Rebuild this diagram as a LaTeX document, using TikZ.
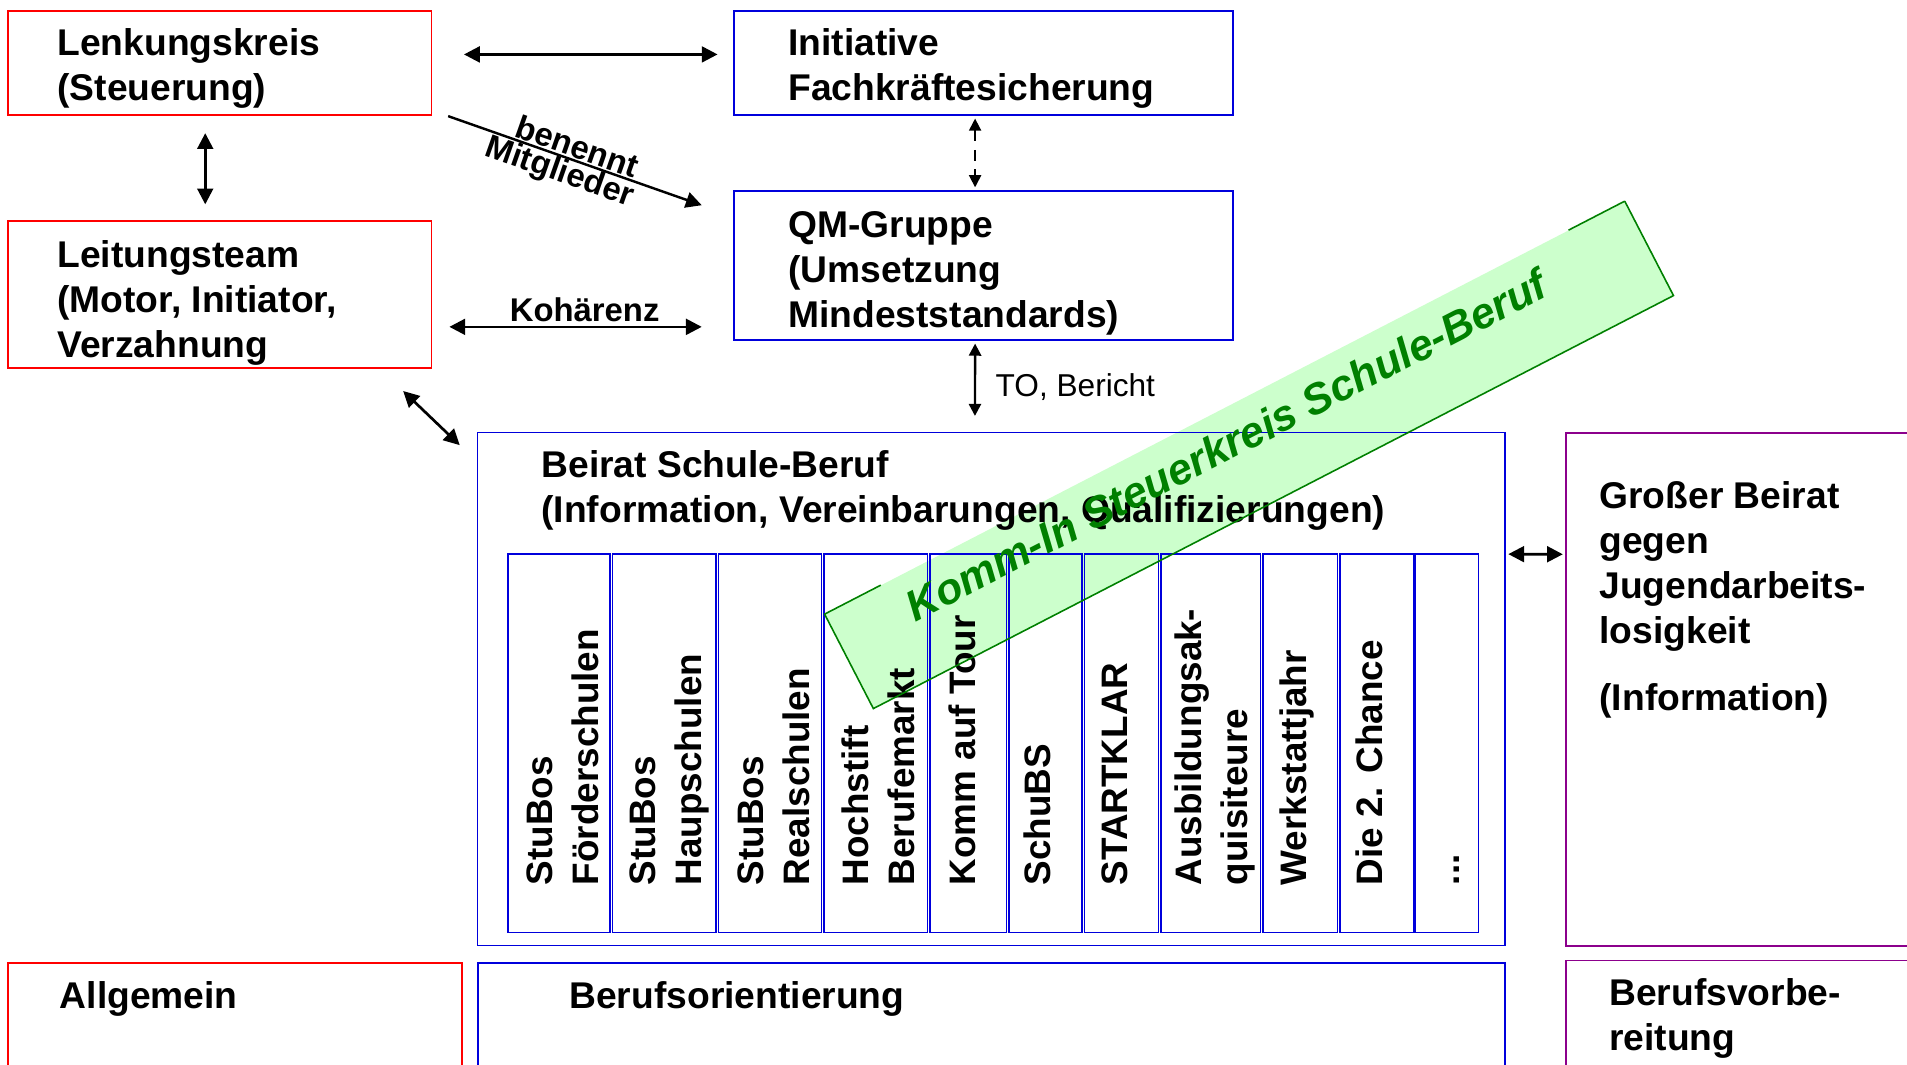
\documentclass[tikz,border=0pt]{standalone}
\usepackage{fontspec}
\setmainfont{Liberation Sans}
\usetikzlibrary{arrows.meta,calc}
\definecolor{cred}{RGB}{255,0,0}
\definecolor{cblue}{RGB}{0,0,220}
\definecolor{cpurple}{RGB}{140,0,140}
\definecolor{bgreen}{RGB}{204,255,204}
\definecolor{dgreen}{RGB}{0,128,0}
\begin{document}
\begin{tikzpicture}[x=1pt,y=-1pt,
  box/.style={draw, line width=1.5pt, inner sep=0pt, anchor=north west},
  redbox/.style={box, draw=cred},
  bluebox/.style={box, draw=cblue},
  purplebox/.style={box, draw=cpurple},
  colbox/.style={draw=cblue, line width=1.2pt, inner sep=0pt, anchor=north west, minimum height=311pt},
  lbl/.style={font=\fontsize{30.6}{37}\selectfont\bfseries, anchor=base west, align=left, inner sep=0pt},
  vlbl/.style={font=\fontsize{30.3}{38}\selectfont\bfseries, rotate=90, anchor=base west, align=left, inner sep=0pt},
  lab/.style={font=\fontsize{27}{30}\selectfont\bfseries, inner sep=1pt},
  arr/.style={line width=2.2pt, {Triangle[length=13pt,width=13pt]}-{Triangle[length=13pt,width=13pt]}},
  arrs/.style={line width=2pt, {Triangle[length=10pt,width=10pt]}-{Triangle[length=10pt,width=10pt]}},
  arrone/.style={line width=2pt, -{Triangle[length=13pt,width=13pt]}},
  banner/.style={rotate=27.3, minimum width=740pt, minimum height=87pt, inner sep=0pt, fill=bgreen}
]
\useasboundingbox (0,0) rectangle (1568,875);
\fill[white] (0,0) rectangle (1568,875);
\clip (0,0) rectangle (1568,875);

% green banner (fill behind)
\node[banner] (banner) at (1027,374) {};

% boxes
\node[redbox, minimum width=348pt, minimum height=86pt] (lenk) at (6,8) {};
\node[bluebox, minimum width=410pt, minimum height=86pt] (init) at (603,8) {};
\node[redbox, minimum width=348pt, minimum height=121pt] (leit) at (6,181) {};
\node[bluebox, minimum width=410pt, minimum height=123pt] (qm) at (603,156) {};
\node[bluebox, line width=1.2pt, minimum width=845pt, minimum height=422pt] (beirat) at (392,355) {};
\node[purplebox, minimum width=320pt, minimum height=422pt] (gross) at (1287,355) {};
\node[redbox, minimum width=373pt, minimum height=120pt] (allg) at (6,791) {};
\node[bluebox, minimum width=845pt, minimum height=120pt] (bo) at (392,791) {};
\node[purplebox, minimum width=320pt, minimum height=120pt] (bv) at (1287,789) {};

% columns
\node[colbox, minimum width=84pt] (c1) at (417,455) {};
\node[colbox, minimum width=85pt] (c2) at (503,455) {};
\node[colbox, minimum width=85pt] (c3) at (590,455) {};
\node[colbox, minimum width=85pt] (c4) at (677,455) {};
\node[colbox, minimum width=63pt] (c5) at (764,455) {};
\node[colbox, minimum width=60pt] (c6) at (829,455) {};
\node[colbox, minimum width=61pt] (c7) at (891,455) {};
\node[colbox, minimum width=82pt] (c8) at (954,455) {};
\node[colbox, minimum width=61pt] (c9) at (1038,455) {};
\node[colbox, minimum width=61pt] (c10) at (1101,455) {};
\node[colbox, minimum width=52pt] (c11) at (1163,455) {};

% texts (anchor = baseline of the last line)
\node[lbl] (tlenk) at (47,83) {Lenkungskreis\\(Steuerung)};
\node[lbl] (tinit) at (648,83) {Initiative\\Fachkräftesicherung};
\node[lbl] (tleit) at (47,294) {Leitungsteam\\(Motor, Initiator,\\Verzahnung};
\node[lbl] (tqm) at (648,269) {QM-Gruppe\\(Umsetzung\\Mindeststandards)};
\node[lbl] (tbeirat) at (445,430) {Beirat Schule-Beruf\\(Information, Vereinbarungen, Qualifizierungen)};
\node[lbl] (tgross) at (1315,584) {Großer Beirat\\gegen\\Jugendarbeits-\\losigkeit\\[18pt](Information)};
\node[lbl] (tallg) at (49,829) {Allgemein};
\node[lbl] (tbo) at (468,829) {Berufsorientierung};
\node[lbl] (tbv) at (1323,864) {Berufsvorbe-\\reitung};

% vertical texts (anchor = baseline of the last line)
\node[vlbl] (v1) at (492,728) {StuBos\\Förderschulen};
\node[vlbl] (v2) at (577,728) {StuBos\\Haupschulen};
\node[vlbl] (v3) at (666,728) {StuBos\\Realschulen};
\node[vlbl] (v4) at (752,728) {Hochstift\\Berufemarkt};
\node[vlbl] (v5) at (802,728) {Komm auf Tour};
\node[vlbl] (v6) at (864,728) {SchuBS};
\node[vlbl] (v7) at (927,728) {STARTKLAR};
\node[vlbl] (v8) at (1026,728) {Ausbildungsak-\\quisiteure};
\node[vlbl] (v9) at (1074,728) {Werkstattjahr};
\node[vlbl] (v10) at (1137,728) {Die 2. Chance};
\node[vlbl] (v11) at (1200,728) {...};

% connectors
\draw[arr, shorten <=26pt, shorten >=13pt] ([yshift=7pt]lenk.east) -- ([yshift=7pt]init.west);
\draw[arr, shorten <=14pt, shorten >=13pt] ([xshift=-12pt]lenk.south) -- ([xshift=-12pt]leit.north);
\draw[arrone] ([xshift=13pt]lenk.south east) -- ([xshift=-26pt,yshift=49.5pt]qm.west)
  node[lab, pos=0.49, sloped, above] {benennt}
  node[lab, pos=0.46, sloped, below, inner sep=0pt] {Mitglieder};
\draw[arr, shorten <=14pt, shorten >=26pt] ([yshift=-26.5pt]leit.east) -- ([yshift=-50.5pt]qm.west)
  node[lab, pos=0.506, above, inner sep=3pt] {Kohärenz};
\draw[arrs, line width=1.4pt, dashed, dash pattern=on 9pt off 7pt, shorten <=2pt, shorten >=2pt] ([xshift=-7pt]init.south) -- ([xshift=-7pt]qm.north);
\draw[arrs, shorten <=2pt, shorten >=13pt] ([xshift=-7pt]qm.south) -- ([xshift=-13.5pt]beirat.north)
  node[pos=0.51, anchor=west, xshift=16pt, inner sep=0pt, font=\fontsize{26}{30}\selectfont] {TO, Bericht};
\draw[arr] ([xshift=-24pt,yshift=-18pt]leit.south east) -- ([xshift=-14pt,yshift=-11pt]beirat.north west);
\draw[arr, shorten <=2pt, shorten >=2pt] ([yshift=111pt]beirat.east) -- ([yshift=111pt]gross.west);

% banner border and text
\draw[dgreen, line width=1.3pt] (banner.north east) -- (banner.south east) -- (banner.south west) -- (banner.north west) -- ($(banner.north west)!52pt!(banner.north east)$);
\draw[dgreen, line width=1.3pt] (banner.north east) -- ($(banner.north east)!52pt!(banner.north west)$);
\node[rotate=27.3, inner sep=0pt, text=dgreen, font=\fontsize{35.5}{40}\selectfont\bfseries\itshape] (btext) at (1008,366) {Komm-In Steuerkreis Schule-Beruf};
\end{tikzpicture}
\end{document}
